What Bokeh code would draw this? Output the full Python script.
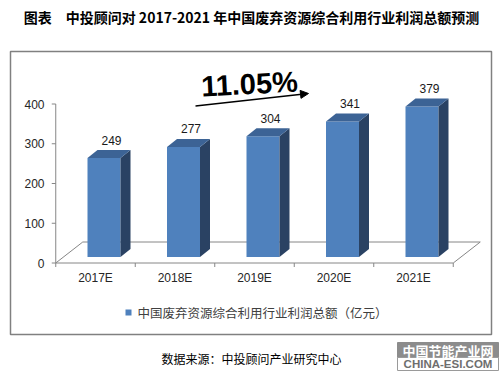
from bokeh.plotting import figure
from bokeh.models import Range1d, Arrow, NormalHead
from bokeh.core.properties import value
from bokeh.embed import file_html
from bokeh.resources import INLINE

# ---------------- data ----------------
categories = ["2017E", "2018E", "2019E", "2020E", "2021E"]
profits = [249, 277, 304, 341, 379]
y_ticks = [0, 100, 200, 300, 400]
title_text = "图表　中投顾问对 2017-2021 年中国废弃资源综合利用行业利润总额预测"
series_name = "中国废弃资源综合利用行业利润总额（亿元）"
cagr_text = "11.05%"
source_text = "数据来源：中投顾问产业研究中心"
wm_top = "中国节能产业网"
wm_bottom = "CHINA-ESI.COM"

# ---------------- layout ----------------
W, H = 500, 372
ORIGIN = 0        # page offset of the figure
CAT_PX = 79.5     # pixels per category
CAT0_PX = 95.0    # page x of first category centre
ZERO_PX = 262.5   # page y of value 0
VAL_PX = 0.3975   # pixels per value unit


def X(px):
    return (px - CAT0_PX) / CAT_PX


def Y(py):
    return (ZERO_PX - py) / VAL_PX


def DX(px):
    return px / CAT_PX


def DY(px):
    return px / VAL_PX


p = figure(width=W, height=H, output_backend="svg", toolbar_location=None,
           x_range=Range1d(X(ORIGIN), X(ORIGIN + W)),
           y_range=Range1d(Y(ORIGIN + H), Y(ORIGIN)),
           x_axis_location=None, y_axis_location=None,
           min_border=0, background_fill_color="white")
p.grid.visible = False
p.outline_line_color = None

SANS = value("Liberation Sans")
CJK = value("Noto Sans CJK SC")
AXIS_COL = "#868686"
FRONT = "#4f81bd"
TOP = "#3c6395"
SIDE = "#2a4263"

n = len(categories)
idx = list(range(n))

# outer border box
p.quad(left=[X(10)], right=[X(491)], top=[Y(51)], bottom=[Y(334)],
       fill_color=None, line_color="#808080", line_width=1.5)

# floor (3D base)
fdx, fdy = DX(27), DY(21)
lo, hi = -0.5, n - 0.5
p.multi_line(xs=[[lo, hi], [hi, hi + fdx], [lo + fdx, hi + fdx], [lo, lo + fdx]],
             ys=[[0, 0], [0, fdy], [fdy, fdy], [0, fdy]],
             line_color=AXIS_COL, line_width=1)

# y axis
p.segment(x0=[lo], y0=[0], x1=[lo], y1=[max(y_ticks)], line_color=AXIS_COL, line_width=1)
p.segment(x0=[lo - DX(4)] * len(y_ticks), y0=y_ticks, x1=[lo] * len(y_ticks), y1=y_ticks,
          line_color=AXIS_COL, line_width=1)
p.text(x=[X(44)] * len(y_ticks), y=y_ticks, text=[str(t) for t in y_ticks],
       text_align="right", text_baseline="middle", text_font=SANS,
       text_font_size=value("12px"), text_color="#262626")

# x axis ticks & labels
bounds = [i - 0.5 for i in range(n + 1)]
p.segment(x0=bounds, y0=[0] * len(bounds), x1=bounds, y1=[-DY(4)] * len(bounds),
          line_color=AXIS_COL, line_width=1)
p.text(x=idx, y=[Y(277)] * n, text=categories, text_align="center",
       text_baseline="middle", text_font=SANS, text_font_size=value("12px"),
       text_color="#262626")

# 3D bars
base = 15
off = DX(8.5)
hw = DX(16.5)
ddx, ddy = DX(10), DY(8)
lefts = [i + off - hw for i in idx]
rights = [i + off + hw for i in idx]
tops = [v + base for v in profits]
p.quad(left=lefts, right=rights, bottom=[base] * n, top=tops,
       fill_color=FRONT, line_color=None)
side_xs = [[r, r + ddx, r + ddx, r] for r in rights]
side_ys = [[base, base + ddy, t + ddy, t] for t in tops]
p.patches(side_xs, side_ys, fill_color=SIDE, line_color=None)
top_xs = [[l, r, r + ddx, l + ddx] for l, r in zip(lefts, rights)]
top_ys = [[t, t, t + ddy, t + ddy] for t in tops]
p.patches(top_xs, top_ys, fill_color=TOP, line_color=None)

# data labels
p.text(x=[i + DX(16) for i in idx], y=[t + ddy + DY(10) for t in tops],
       text=[str(v) for v in profits], text_align="center", text_baseline="middle",
       text_font=SANS, text_font_size=value("12px"), text_color="#1a1a1a")

# growth annotation
p.text(x=[X(249)], y=[Y(83.5)], text=[cagr_text], angle=0.05,
       text_align="center", text_baseline="middle", text_font=SANS,
       text_font_size=value("29px"), text_font_style="bold", text_color="black")
p.add_layout(Arrow(x_start=X(195), y_start=Y(105.5), x_end=X(308), y_end=Y(93),
                   line_width=1.5, line_color="black",
                   end=NormalHead(size=8, fill_color="black", line_color="black")))

# legend
p.quad(left=[X(125)], right=[X(131)], top=[Y(309)], bottom=[Y(315)],
       fill_color=FRONT, line_color=None)
p.text(x=[X(137)], y=[Y(312)], text=[series_name], text_align="left",
       text_baseline="middle", text_font=CJK, text_font_size=value("12.5px"),
       text_color="#404040")

# title
p.text(x=[X(251)], y=[Y(16.5)], text=[title_text], text_align="center",
       text_baseline="middle", text_font=CJK, text_font_size=value("14px"),
       text_font_style="bold", text_color="black")

# source
p.text(x=[X(251)], y=[Y(358)], text=[source_text], text_align="center",
       text_baseline="middle", text_font=CJK, text_font_size=value("12px"),
       text_color="black")

# watermark
p.quad(left=[X(397)], right=[X(498)], top=[Y(342)], bottom=[Y(357)],
       fill_color="#8c8c8c", line_color="#8c8c8c")
p.quad(left=[X(397)], right=[X(498)], top=[Y(357)], bottom=[Y(370)],
       fill_color="white", line_color="#9a9a9a")
p.text(x=[X(447.5)], y=[Y(349.5)], text=[wm_top], text_align="center",
       text_baseline="middle", text_font=CJK, text_font_size=value("13px"),
       text_font_style="bold", text_color="white")
p.text(x=[X(447.5)], y=[Y(363.5)], text=[wm_bottom], text_align="center",
       text_baseline="middle", text_font=SANS, text_font_size=value("11.5px"),
       text_font_style="bold", text_color="#6e6e6e")

open("out.html", "w").write(file_html(p, INLINE))
